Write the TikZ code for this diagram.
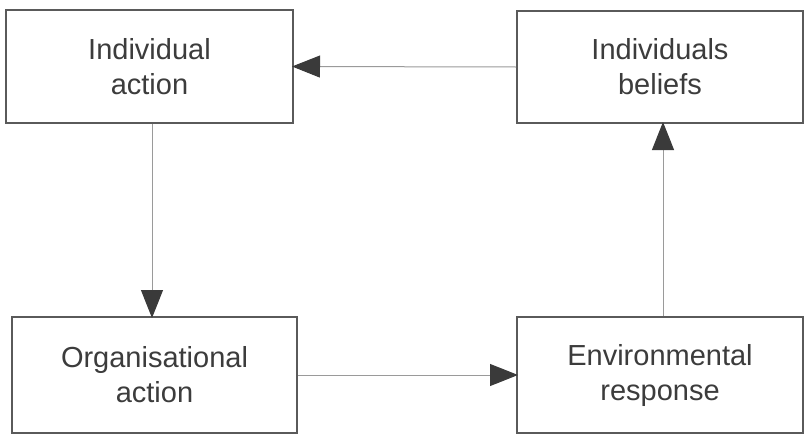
\documentclass[tikz,border=0pt]{standalone}
\usepackage{fontspec}
\setmainfont{Liberation Sans}
\usetikzlibrary{arrows.meta,calc}
\definecolor{boxline}{HTML}{5A5A5A}
\definecolor{linkline}{HTML}{9A9A9A}
\definecolor{tipfill}{HTML}{3A3A3A}
\definecolor{txt}{HTML}{3C3C3C}
\tikzset{
  stagebox/.style={draw=boxline, line width=2pt, fill=white, align=center,
    text=txt, font=\fontsize{29}{35}\selectfont, inner sep=0pt},
  link/.style={draw=linkline, line width=1pt,
    -{Triangle[length=28pt,width=22pt,fill=tipfill,color=tipfill]}, shorten >=-2pt}
}
\begin{document}
\begin{tikzpicture}[x=1pt,y=-1pt]
  \useasboundingbox[fill=white] (0,0) rectangle (804,434);
  \node[stagebox, minimum width=287pt, minimum height=113pt] (ia) at (149.5,66.5) {Individual\\action};
  \node[stagebox, minimum width=286pt, minimum height=112pt] (ib) at (660,67) {Individuals\\beliefs};
  \node[stagebox, minimum width=285pt, minimum height=116pt] (oa) at (154.5,375) {Organisational\\action};
  \node[stagebox, minimum width=286pt, minimum height=116pt] (er) at (660,375) {Environmental\\response};
  \draw[link] (ib.west) -- (ia.east);
  \draw[link] ($(ia.south)+(2.5,0)$) -- ($(oa.north)+(-2.5,0)$);
  \draw[link] (oa.east) -- (er.west);
  \draw[link] ($(er.north)+(3,0)$) -- ($(ib.south)+(3,0)$);
\end{tikzpicture}
\end{document}
